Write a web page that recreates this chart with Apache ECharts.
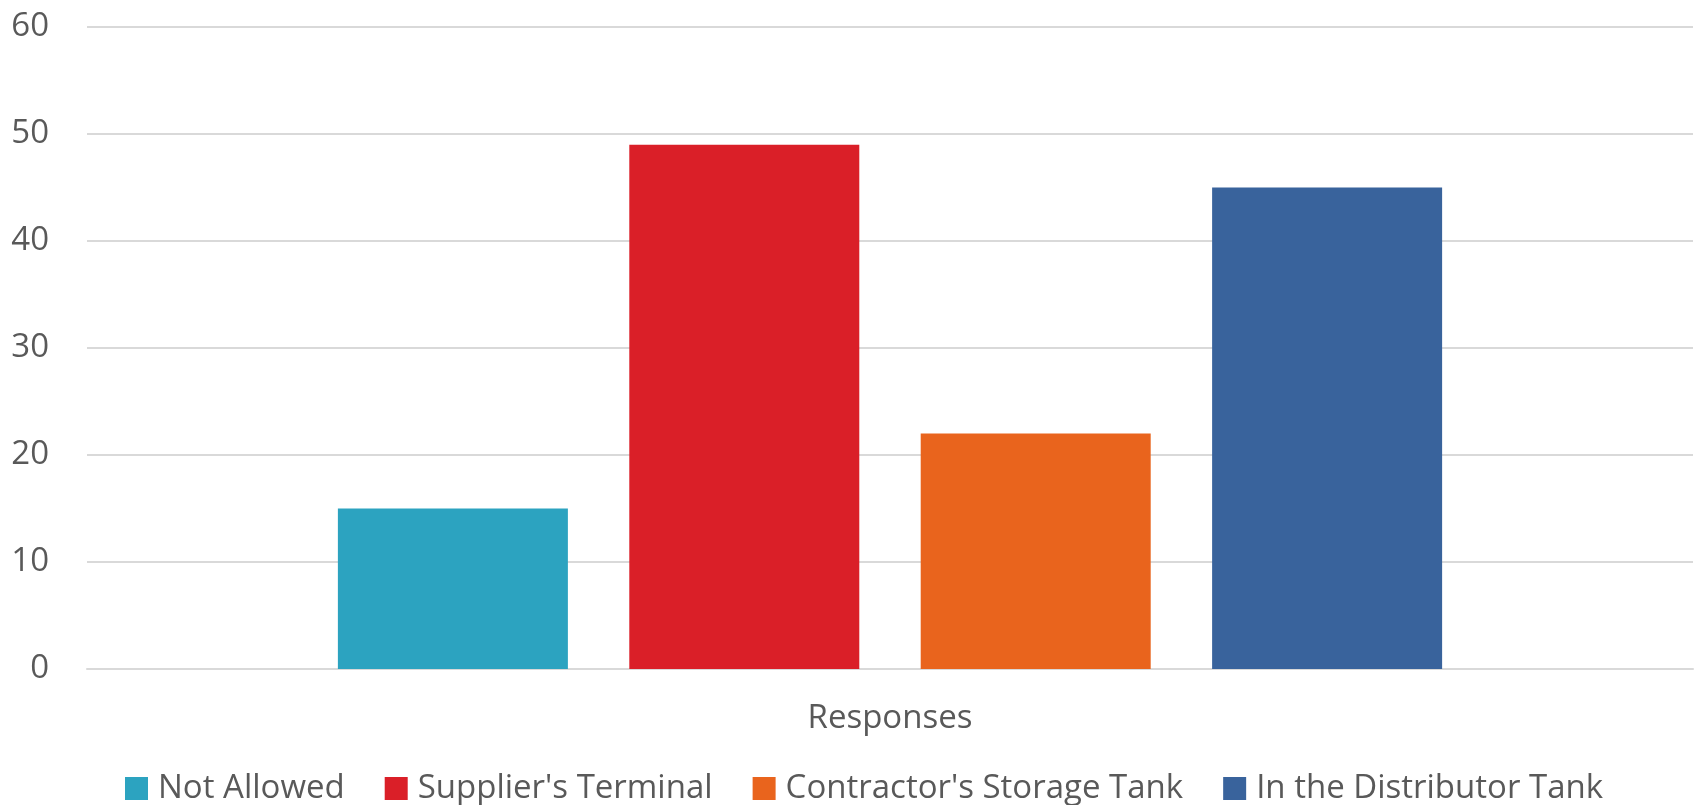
<!DOCTYPE html>
<html>
<head>
<meta charset="utf-8">
<style>
  html, body { margin: 0; padding: 0; background: #fff; }
  #chart { width: 1696px; height: 805px; }
</style>
</head>
<body>
<div id="chart"></div>
<script src="https://cdn.jsdelivr.net/npm/echarts@6/dist/echarts.min.js"></script>
<script type="text/javascript">
  // data
  var categories = ['Responses'];
  var seriesNames = ['Not Allowed', "Supplier's Terminal", "Contractor's Storage Tank", 'In the Distributor Tank'];
  var seriesValues = [15, 49, 22, 45];
  var seriesColors = ['#2CA3C0', '#DA1F28', '#E9641D', '#39639C'];
  var yTicks = { min: 0, max: 60, step: 10 };

  var font = '"Open Sans", "DejaVu Sans", sans-serif';
  var textColor = '#595959';

  var myChart = echarts.init(document.getElementById('chart'));

  var series = [];
  for (var i = 0; i < seriesNames.length; i++) {
    series.push({
      name: seriesNames[i],
      type: 'bar',
      data: [seriesValues[i]],
      barWidth: 230,
      barGap: '26.7%',
      itemStyle: { color: seriesColors[i] }
    });
  }

  var option = {
    animation: false,
    backgroundColor: '#fff',
    textStyle: { fontFamily: font },
    grid: { left: 87, right: 3, top: 27, bottom: 136, containLabel: false },
    legend: {
      data: seriesNames,
      left: 120,
      top: 767,
      itemWidth: 23,
      itemHeight: 23,
      itemGap: 40,
      icon: 'rect',
      textStyle: { fontFamily: font, fontSize: 33, color: textColor, padding: [0, 0, 14, 5] }
    },
    xAxis: {
      type: 'category',
      data: categories,
      axisTick: { show: false },
      axisLine: { lineStyle: { color: '#d9d9d9', width: 2 } },
      axisLabel: { fontFamily: font, fontSize: 33, color: textColor, margin: 33 }
    },
    yAxis: {
      type: 'value',
      min: yTicks.min,
      max: yTicks.max,
      interval: yTicks.step,
      axisLine: { show: false },
      axisTick: { show: false },
      splitLine: { lineStyle: { color: '#d9d9d9', width: 2 } },
      axisLabel: { fontFamily: font, fontSize: 33, color: textColor, margin: 38 }
    },
    series: series
  };

  myChart.setOption(option);
</script>
</body>
</html>
